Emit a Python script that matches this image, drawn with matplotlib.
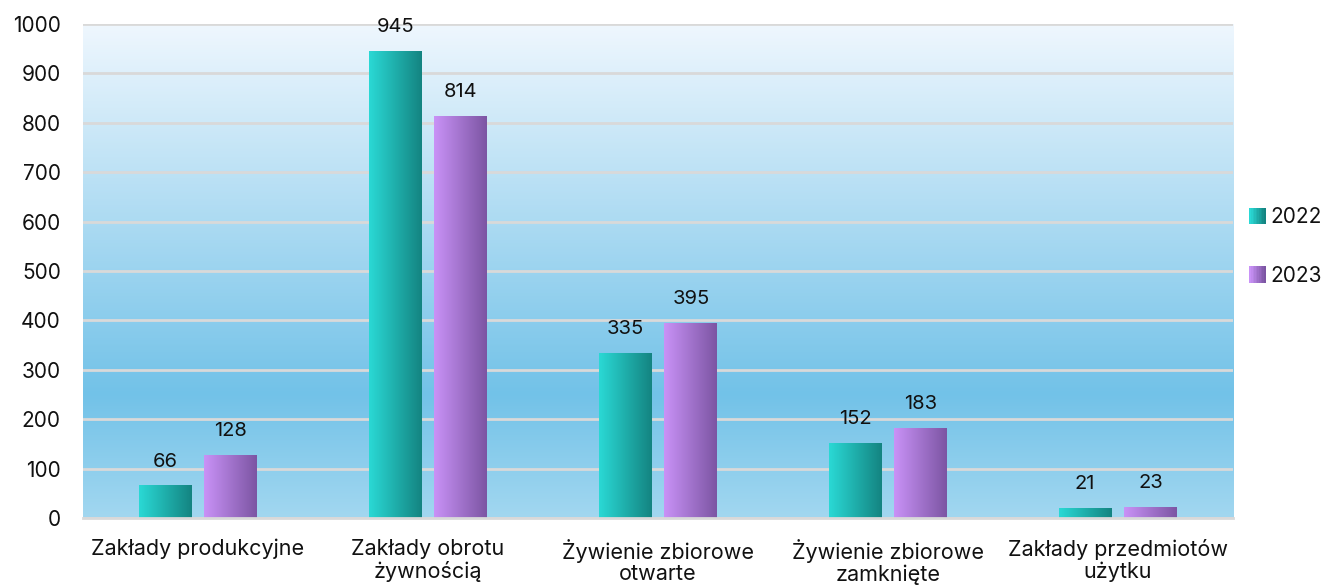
import numpy as np
import matplotlib
matplotlib.use("Agg")
import matplotlib.pyplot as plt
from matplotlib.colors import LinearSegmentedColormap
from matplotlib.legend_handler import HandlerBase
from matplotlib.patches import Rectangle

plt.rcParams['font.family'] = ['Inter', 'DejaVu Sans']

categories = ["Zakłady produkcyjne", "Zakłady obrotu\nżywnością", "Żywienie zbiorowe\notwarte",
              "Żywienie zbiorowe\nzamknięte", "Zakłady przedmiotów\nużytku"]
series_names = ["2022", "2023"]
values_2022 = [66, 945, 335, 152, 21]
values_2023 = [128, 814, 395, 183, 23]
yticks = [0, 100, 200, 300, 400, 500, 600, 700, 800, 900, 1000]

grad_2022 = ["#2ad9d5", "#148481"]
grad_2023 = ["#c992f7", "#7c55a3"]

fig = plt.figure(figsize=(13.24, 5.85), dpi=100)
ax = fig.add_axes([0.0627, 0.1145, 0.8686, 0.8445])

# background gradient
bg_cmap = LinearSegmentedColormap.from_list(
    "bg", [(0.0, "#a2d7f0"), (0.25, "#72c2e8"), (1.0, "#eff7fe")])
grad = np.linspace(0, 1, 256).reshape(-1, 1)
ax.imshow(grad, aspect='auto', cmap=bg_cmap, origin='lower',
          extent=[0, 1, 0, 1], transform=ax.transAxes, zorder=0)

x = np.arange(len(categories))
w = 0.23
off = 0.143

hgrad = np.linspace(0, 1, 128).reshape(1, -1)
for vals, cols, sign in [(values_2022, grad_2022, -1), (values_2023, grad_2023, 1)]:
    cmap = LinearSegmentedColormap.from_list("b", cols)
    bars = ax.bar(x + sign * off, vals, width=w, color=cols[0], zorder=2)
    for b, v in zip(bars, vals):
        x0, y0 = b.get_x(), b.get_y()
        im = ax.imshow(hgrad, aspect='auto', cmap=cmap,
                       extent=[x0, x0 + b.get_width(), y0, y0 + b.get_height()], zorder=3)
        im.set_clip_path(b)
        ax.text(b.get_x() + b.get_width() / 2, v + 30, str(v), ha='center', va='bottom',
                fontsize=14.5, color='#111111', zorder=4)

ax.set_xlim(-0.5, len(categories) - 0.5)
ax.set_ylim(0, 1000)
ax.set_yticks(yticks)
ax.set_yticklabels([str(t) for t in yticks], fontsize=15, color='#111111')
ax.set_xticks(x)
ax.set_xticklabels(categories, fontsize=15.5, color='#111111', linespacing=1.1)
ax.tick_params(axis='both', length=0)
ax.tick_params(axis='x', pad=15)
ax.tick_params(axis='y', pad=16)
ax.grid(axis='y', color='#d9d9d9', linewidth=2, zorder=1)
ax.set_axisbelow(True)
for s in ['top', 'right', 'left']:
    ax.spines[s].set_visible(False)
ax.spines['bottom'].set_color('#d9d9d9')
ax.spines['bottom'].set_linewidth(2)
ax.spines['bottom'].set_zorder(5)


class GradHandler(HandlerBase):
    def __init__(self, cols):
        super().__init__()
        self.cols = cols

    def create_artists(self, legend, orig_handle, xdescent, ydescent, width, height, fontsize, trans):
        cmap = LinearSegmentedColormap.from_list("l", self.cols)
        n = 10
        s = height * 1.1
        x0 = xdescent + width - s
        y0 = -ydescent + (height - s) / 2
        arts = []
        for i in range(n):
            r = Rectangle((x0 + i * s / n, y0), s / n + 0.2, s, facecolor=cmap(i / (n - 1)),
                          edgecolor='none', transform=trans)
            arts.append(r)
        return arts


h1 = Rectangle((0, 0), 1, 1)
h2 = Rectangle((0, 0), 1, 1)
leg = fig.legend([h1, h2], series_names, loc='center left', bbox_to_anchor=(0.944, 0.5786),
                 frameon=False, fontsize=15, handlelength=0.75, handletextpad=0.25,
                 labelspacing=1.85, borderpad=0, borderaxespad=0,
                 handler_map={h1: GradHandler(grad_2022), h2: GradHandler(grad_2023)})
for t in leg.get_texts():
    t.set_color('#111111')

fig.savefig("out.png", dpi=100)
